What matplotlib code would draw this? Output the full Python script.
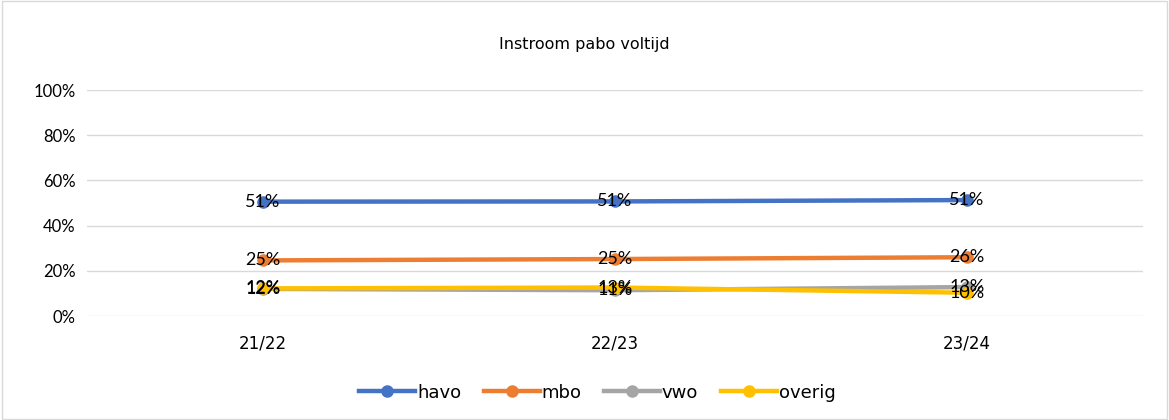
import numpy as np
import matplotlib.pyplot as plt
from matplotlib.patches import Rectangle

plt.rcParams['font.family'] = ['Lato', 'DejaVu Sans']

jaren = ['21/22', '22/23', '23/24']
havo = [0.506, 0.507, 0.513]
mbo = [0.246, 0.252, 0.26]
vwo = [0.12, 0.114, 0.128]
overig = [0.122, 0.126, 0.103]
namen = ['havo', 'mbo', 'vwo', 'overig']
kleuren = ['#4472C4', '#ED7D31', '#A5A5A5', '#FFC000']

fig = plt.figure(figsize=(11.69, 4.2), dpi=100)
fig.patches.append(Rectangle((0.002, 0.003), 0.996, 0.994, transform=fig.transFigure,
                             fill=False, edgecolor='#D9D9D9', linewidth=1))
ax = fig.add_axes([0.0744, 0.2476, 0.9034, 0.5381])

x = np.arange(len(jaren))
for reeks, naam, kl in zip([havo, mbo, vwo, overig], namen, kleuren):
    ax.plot(x, reeks, color=kl, linewidth=3.2, marker='o', markersize=8, label=naam, zorder=3)
    for xi, v in zip(x, reeks):
        ax.text(xi, v, f'{round(v*100):.0f}%', ha='center', va='center', fontsize=13,
                color='#000000', zorder=5)

ax.set_xlim(-0.5, 2.5)
ax.set_ylim(0, 1)
ax.set_yticks(np.arange(0, 1.01, 0.2))
ax.set_yticklabels([f'{int(t*100)}%' for t in np.arange(0, 1.01, 0.2)])
ax.set_xticks(x)
ax.set_xticklabels(jaren, family='DejaVu Sans', fontsize=12)
ax.grid(axis='y', color='#D9D9D9', linewidth=1)
ax.set_axisbelow(True)
for s in ax.spines.values():
    s.set_visible(False)
ax.tick_params(axis='y', length=0, labelsize=12, colors='#000000', pad=8)
ax.tick_params(axis='x', length=0, colors='#000000', pad=13)

fig.text(0.5, 0.893, 'Instroom pabo voltijd', ha='center', va='center', fontsize=11.5,
         family='DejaVu Sans')
fig.legend(loc='center', bbox_to_anchor=(0.511, 0.065), ncol=4, frameon=False,
           prop={'family': 'DejaVu Sans', 'size': 13}, handlelength=3.1,
           handletextpad=0.1, columnspacing=1.25)

fig.savefig('out.png', dpi=100)
